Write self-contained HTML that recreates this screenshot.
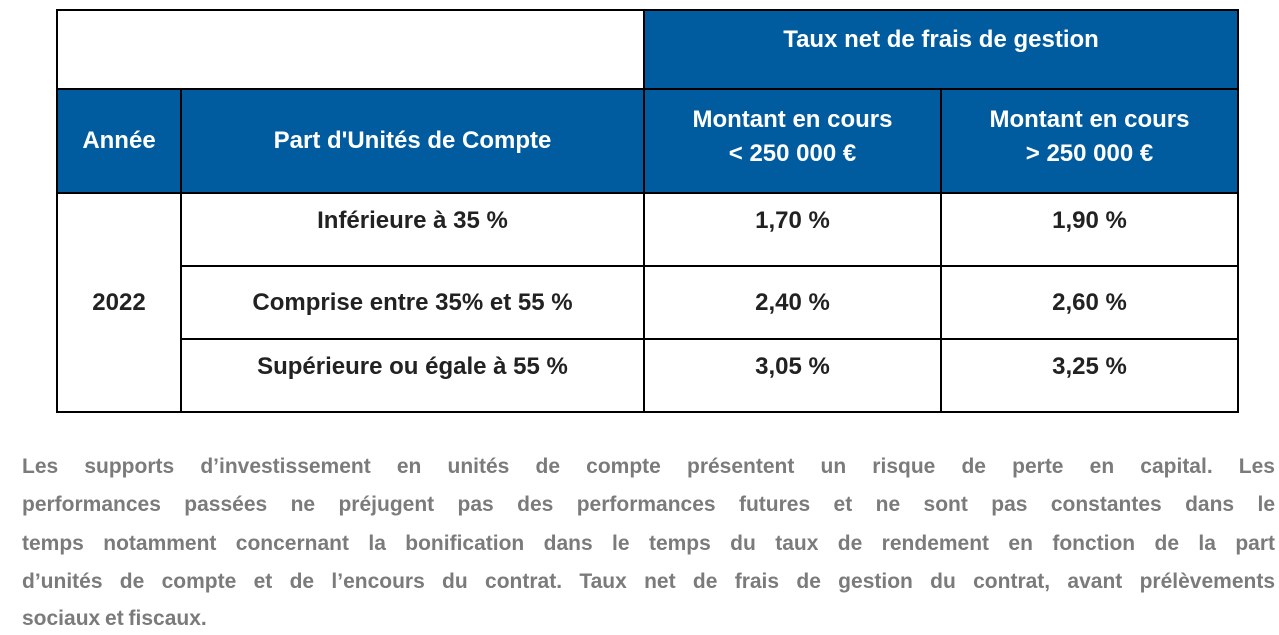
<!DOCTYPE html>
<html><head><meta charset="utf-8"><style>
body{margin:0;width:1279px;height:635px;background:#fff;font-family:"Liberation Sans",Arial,sans-serif;position:relative;overflow:hidden}
.c{position:absolute;box-sizing:border-box;border:2px solid #000;display:flex;align-items:center;justify-content:center;text-align:center;font-weight:bold;font-size:24px;line-height:34px;color:#222}
.b{background:#005b9f;color:#fff}
.t{padding-bottom:18px}
.p{position:absolute;left:22px;width:1253px;font-weight:bold;font-size:21px;color:#7b7b7b;text-align:justify;text-align-last:justify;white-space:nowrap;word-spacing:-1px}
.p.l{text-align-last:left}
</style></head><body>
<div class="c" style="left:56px;top:9px;width:589px;height:81px"></div>
<div class="c b" style="left:643px;top:9px;width:596px;height:81px;padding-bottom:20px">Taux net de frais de gestion</div>
<div class="c b" style="left:56px;top:88px;width:126px;height:106px">Année</div>
<div class="c b" style="left:180px;top:88px;width:465px;height:106px">Part d'Unités de Compte</div>
<div class="c b" style="left:643px;top:88px;width:299px;height:106px;padding-bottom:8px">Montant en cours<br>&lt; 250 000 €</div>
<div class="c b" style="left:940px;top:88px;width:299px;height:106px;padding-bottom:8px">Montant en cours<br>&gt; 250 000 €</div>
<div class="c" style="left:56px;top:192px;width:126px;height:221px">2022</div>
<div class="c t" style="left:180px;top:192px;width:465px;height:75px">Inférieure à 35 %</div>
<div class="c t" style="left:643px;top:192px;width:299px;height:75px">1,70 %</div>
<div class="c t" style="left:940px;top:192px;width:299px;height:75px">1,90 %</div>
<div class="c" style="left:180px;top:265px;width:465px;height:75px">Comprise entre 35% et 55 %</div>
<div class="c" style="left:643px;top:265px;width:299px;height:75px">2,40 %</div>
<div class="c" style="left:940px;top:265px;width:299px;height:75px">2,60 %</div>
<div class="c t" style="left:180px;top:338px;width:465px;height:75px">Supérieure ou égale à 55 %</div>
<div class="c t" style="left:643px;top:338px;width:299px;height:75px">3,05 %</div>
<div class="c t" style="left:940px;top:338px;width:299px;height:75px">3,25 %</div>
<div>
<div class="p" style="top:455px">Les supports d’investissement en unités de compte présentent un risque de perte en capital. Les</div>
<div class="p" style="top:493px">performances passées ne préjugent pas des performances futures et ne sont pas constantes dans le</div>
<div class="p" style="top:532px">temps notamment concernant la bonification dans le temps du taux de rendement en fonction de la part</div>
<div class="p" style="top:570px">d’unités de compte et de l’encours du contrat. Taux net de frais de gestion du contrat, avant prélèvements</div>
<div class="p l" style="top:607px">sociaux et fiscaux.</div>
</div>
</body></html>
